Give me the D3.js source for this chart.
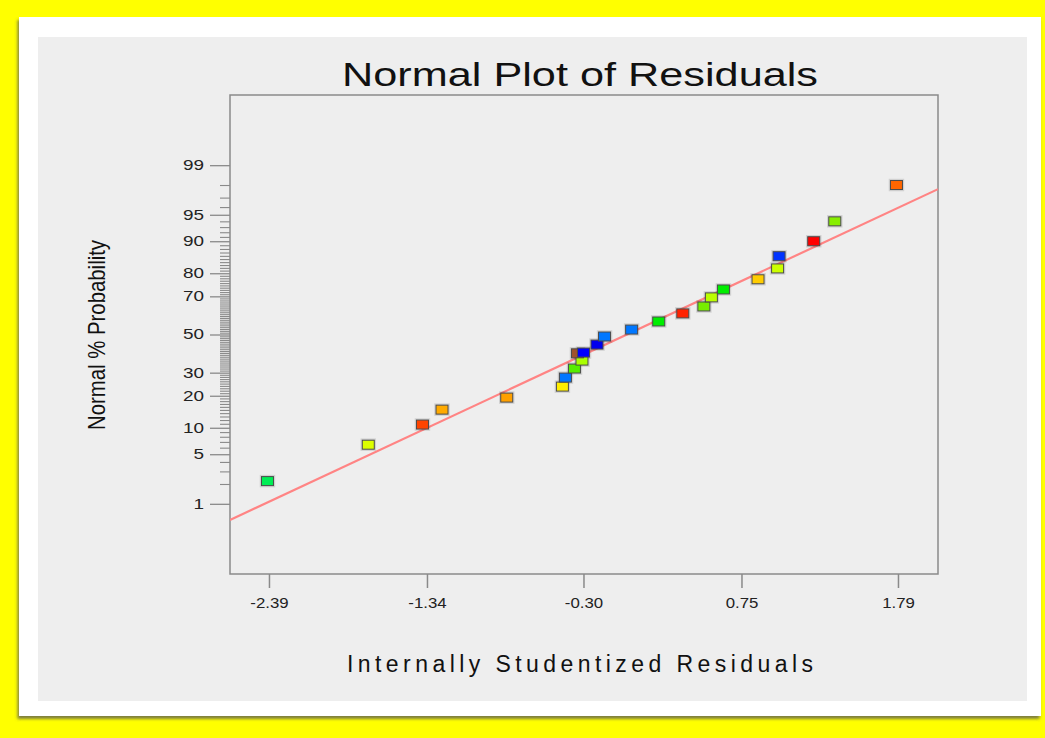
<!DOCTYPE html>
<html>
<head>
<meta charset="utf-8">
<script src="https://cdn.jsdelivr.net/npm/d3@7"></script>
<style>
  html, body { margin: 0; padding: 0; background: #ffff00; }
  svg { display: block; }
</style>
</head>
<body>
<svg id="chart" width="1045" height="738"></svg>
<script>
// Internally studentized residuals (sorted) and their normal % probability
const residuals = [-2.40, -1.73, -1.37, -1.24, -0.81, -0.44, -0.42, -0.36, -0.31, -0.34, -0.30,
  -0.21, -0.16, 0.02, 0.20, 0.36, 0.50, 0.55, 0.63, 0.86, 0.99, 1.00, 1.23, 1.37, 1.78];
const probabilities = [2.2, 6.5, 10.8, 15.1, 19.3, 23.7, 27.7, 32.0, 36.0, 39.8, 40.2,
  44.5, 48.9, 52.7, 57.1, 61.4, 65.0, 69.5, 73.2, 77.6, 81.8, 85.9, 90.0, 94.0, 98.0];
const pointColors = ["#00ee55", "#ddff00", "#ff4400", "#ffaa00", "#ffa000", "#ffee00", "#0077ff",
  "#55ee00", "#aaff00", "#a0522d", "#0000ff", "#0000ee", "#0077ff", "#0077ff", "#00ee00",
  "#ff2200", "#77ee00", "#bbff00", "#00ee00", "#ffcc00", "#ccff00", "#0033ff", "#ff0000",
  "#88ee00", "#ff6600"];

const xTickValues = [-2.39, -1.34, -0.30, 0.75, 1.79];
const xTickLabels = ["-2.39", "-1.34", "-0.30", "0.75", "1.79"];
const yMajorTicks = [1, 5, 10, 20, 30, 50, 70, 80, 90, 95, 99];
const yMinorTicks = d3.range(1, 100).filter(p => !yMajorTicks.includes(p));
const xDomain = [-2.649, 2.056];
const probDomain = [0.05, 99.95];
const fitSlope = 0.966;      // z per residual unit
const fitIntercept = 0.011;  // z at residual 0

// inverse of the standard normal CDF (Acklam)
function probit(p) {
  const a = [-39.69683028665376, 220.9460984245205, -275.9285104469687, 138.3577518672690, -30.66479806614716, 2.506628277459239];
  const b = [-54.47609879822406, 161.5858368580409, -155.6989798598866, 66.80131188771972, -13.28068155288572];
  const c = [-0.007784894002430293, -0.3223964580411365, -2.400758277161838, -2.549732539343734, 4.374664141464968, 2.938163982698783];
  const d = [0.007784695709041462, 0.3224671290700398, 2.445134137142996, 3.754408661907416];
  const pl = 0.02425, ph = 1 - pl;
  let q, r;
  if (p < pl) {
    q = Math.sqrt(-2 * Math.log(p));
    return (((((c[0]*q+c[1])*q+c[2])*q+c[3])*q+c[4])*q+c[5]) / ((((d[0]*q+d[1])*q+d[2])*q+d[3])*q+1);
  } else if (p <= ph) {
    q = p - 0.5; r = q * q;
    return (((((a[0]*r+a[1])*r+a[2])*r+a[3])*r+a[4])*r+a[5])*q / (((((b[0]*r+b[1])*r+b[2])*r+b[3])*r+b[4])*r+1);
  } else {
    q = Math.sqrt(-2 * Math.log(1 - p));
    return -(((((c[0]*q+c[1])*q+c[2])*q+c[3])*q+c[4])*q+c[5]) / ((((d[0]*q+d[1])*q+d[2])*q+d[3])*q+1);
  }
}
const zOf = pct => probit(pct / 100);

const W = 1045, H = 738;
const plot = { left: 230, right: 938, top: 95, bottom: 574 };
const font = "'Liberation Sans', Arial, sans-serif";

// widen tick label glyphs a little (wide sans look)
function widen(sel, factor) {
  sel.each(function () {
    const len = this.getComputedTextLength();
    d3.select(this).attr("textLength", len * factor).attr("lengthAdjust", "spacingAndGlyphs");
  });
}

const svg = d3.select("#chart");
const defs = svg.append("defs");
const shadow = defs.append("filter").attr("id", "cardShadow")
  .attr("x", "-5%").attr("y", "-5%").attr("width", "110%").attr("height", "110%");
shadow.append("feDropShadow").attr("dx", -1.5).attr("dy", 3).attr("stdDeviation", 1.8)
  .attr("flood-color", "#555").attr("flood-opacity", 0.75);

// page background, white card and grey panel
svg.append("rect").attr("width", W).attr("height", H).attr("fill", "#ffff00");
svg.append("rect").attr("x", 19).attr("y", 17).attr("width", 1022).attr("height", 699)
  .attr("fill", "#ffffff").attr("filter", "url(#cardShadow)");
svg.append("rect").attr("x", 38).attr("y", 37).attr("width", 989).attr("height", 664)
  .attr("fill", "#eeeeee");

const x = d3.scaleLinear().domain(xDomain).range([plot.left, plot.right]);
const z = d3.scaleLinear().domain(probDomain.map(zOf)).range([plot.bottom, plot.top]);

// frame
svg.append("rect").attr("x", plot.left).attr("y", plot.top)
  .attr("width", plot.right - plot.left).attr("height", plot.bottom - plot.top)
  .attr("fill", "none").attr("stroke", "#8a8a8a").attr("stroke-width", 1.5);

// x axis
const xAxis = svg.append("g").attr("transform", `translate(0,${plot.bottom})`)
  .call(d3.axisBottom(x).tickValues(xTickValues).tickSize(14).tickPadding(9)
    .tickFormat((d, i) => xTickLabels[i]));
xAxis.select(".domain").remove();
xAxis.selectAll(".tick line").attr("stroke", "#8a8a8a").attr("stroke-width", 1.5);
xAxis.selectAll(".tick text").style("font-family", font).style("font-size", "15px").attr("fill", "#222")
  .call(widen, 1.12);

// y axis: minor ticks at every whole percent, labelled majors
const yMinor = svg.append("g").attr("transform", `translate(${plot.left},0)`)
  .call(d3.axisLeft(z).tickValues(yMinorTicks.map(zOf)).tickSize(10).tickFormat(""));
yMinor.select(".domain").remove();
yMinor.selectAll(".tick line").attr("stroke", "#8a8a8a").attr("stroke-width", 1.1);

const yMajor = svg.append("g").attr("transform", `translate(${plot.left},0)`)
  .call(d3.axisLeft(z).tickValues(yMajorTicks.map(zOf)).tickSize(20).tickPadding(6)
    .tickFormat((d, i) => String(yMajorTicks[i])));
yMajor.select(".domain").remove();
yMajor.selectAll(".tick line").attr("stroke", "#8a8a8a").attr("stroke-width", 1.3);
yMajor.selectAll(".tick text").style("font-family", font).style("font-size", "14px").attr("fill", "#222")
  .call(widen, 1.35);

// fitted normal line
const clip = defs.append("clipPath").attr("id", "plotClip");
clip.append("rect").attr("x", plot.left).attr("y", plot.top)
  .attr("width", plot.right - plot.left).attr("height", plot.bottom - plot.top);
svg.append("path")
  .datum(xDomain)
  .attr("clip-path", "url(#plotClip)")
  .attr("d", d3.line().x(d => x(d)).y(d => z(fitSlope * d + fitIntercept)))
  .attr("fill", "none").attr("stroke", "#ff8484").attr("stroke-width", 2.2);

// residual points
const pts = residuals.map((r, i) => ({ r, p: probabilities[i], c: pointColors[i] }));
const mw = 12, mh = 9;
const g = svg.append("g");
g.selectAll("rect.halo").data(pts).join("rect").attr("class", "halo")
  .attr("x", d => x(d.r) - mw / 2 - 1).attr("y", d => z(zOf(d.p)) - mh / 2 - 1)
  .attr("width", mw + 2).attr("height", mh + 2)
  .attr("fill", "none").attr("stroke", "#000").attr("stroke-opacity", 0.12).attr("stroke-width", 1.5);
g.selectAll("rect.pt").data(pts).join("rect").attr("class", "pt")
  .attr("x", d => x(d.r) - mw / 2).attr("y", d => z(zOf(d.p)) - mh / 2)
  .attr("width", mw).attr("height", mh)
  .attr("fill", d => d.c).attr("stroke", "#4a4a4a").attr("stroke-width", 1);

// titles
svg.append("text").attr("x", 580).attr("y", 86).attr("text-anchor", "middle")
  .attr("font-family", font).attr("font-size", 33).attr("fill", "#111")
  .attr("textLength", 476).attr("lengthAdjust", "spacingAndGlyphs")
  .text("Normal Plot of Residuals");

svg.append("text").attr("x", 580).attr("y", 672).attr("text-anchor", "middle")
  .attr("font-family", font).attr("font-size", 23).attr("fill", "#111")
  .attr("textLength", 466).attr("lengthAdjust", "spacing")
  .text("Internally  Studentized Residuals");

svg.append("text").attr("transform", "translate(105,335) rotate(-90)").attr("text-anchor", "middle")
  .attr("font-family", font).attr("font-size", 24).attr("fill", "#111")
  .attr("textLength", 190).attr("lengthAdjust", "spacingAndGlyphs")
  .text("Normal % Probability");
</script>
</body>
</html>
